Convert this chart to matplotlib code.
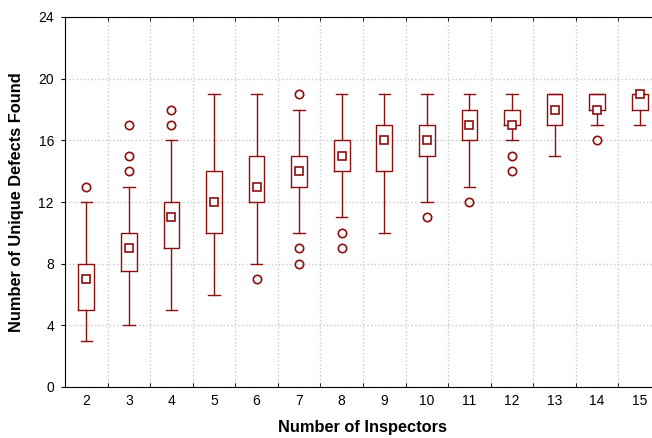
import matplotlib
matplotlib.use("Agg")
import matplotlib.pyplot as plt

plt.rcParams['font.family'] = ['Liberation Sans', 'DejaVu Sans']

inspectors = [2, 3, 4, 5, 6, 7, 8, 9, 10, 11, 12, 13, 14, 15]
whisker_lo = [3, 4, 5, 6, 8, 10, 11, 10, 12, 13, 16, 15, 17, 17]
q1 = [5, 7.5, 9, 10, 12, 13, 14, 14, 15, 16, 17, 17, 18, 18]
q3 = [8, 10, 12, 14, 15, 15, 16, 17, 17, 18, 18, 19, 19, 19]
whisker_hi = [12, 13, 16, 19, 19, 18, 19, 19, 19, 19, 19, 19, 19, 19]
centre = [7, 9, 11, 12, 13, 14, 15, 16, 16, 17, 17, 18, 18, 19]
outliers = [[13], [14, 15, 17], [17, 18], [], [7], [19, 9, 8], [10, 9],
            [], [11], [12], [15, 14], [], [16], []]

col = '#8b1010'

stats = []
for i in range(len(inspectors)):
    stats.append(dict(whislo=whisker_lo[i], q1=q1[i], med=centre[i],
                      q3=q3[i], whishi=whisker_hi[i], fliers=outliers[i]))

fig = plt.figure(figsize=(6.52, 4.38), dpi=100)
ax = fig.add_axes([65 / 652, 1 - 387 / 438, (661 - 65) / 652, (387 - 17) / 438])

ax.bxp(stats, positions=inspectors, widths=0.37, showmeans=False,
       boxprops=dict(color=col, linewidth=1),
       whiskerprops=dict(color=col, linewidth=1),
       capprops=dict(color=col, linewidth=1),
       capwidths=0.27,
       medianprops=dict(visible=False),
       flierprops=dict(marker='o', markersize=6, markerfacecolor='none',
                       markeredgecolor=col, markeredgewidth=1.2))
ax.plot(inspectors, centre, ls='none', marker='s', markersize=5.5,
        markerfacecolor='white', markeredgecolor=col, markeredgewidth=1.2,
        zorder=5)

ax.set_xlim(1.5, 15.5)
ax.set_ylim(0, 24)
ax.set_yticks(range(0, 25, 4))
ax.set_xticks(inspectors)
ax.set_xticklabels([str(v) for v in inspectors])
ax.set_xticks([v + 0.5 for v in inspectors[:-1]], minor=True)
ax.tick_params(axis='x', which='major', length=0, labelsize=10, pad=5)
ax.tick_params(axis='x', which='minor', direction='in', length=3,
               top=True, bottom=True)
ax.tick_params(axis='y', direction='out', length=3, labelsize=10, pad=5)
ax.spines['right'].set_visible(False)

ax.grid(True, axis='y', which='major', color='#c8c8c8', linestyle=':',
        linewidth=1)
ax.grid(True, axis='x', which='minor', color='#c8c8c8', linestyle=':',
        linewidth=1)
ax.set_axisbelow(True)

ax.set_xlabel('Number of Inspectors', fontsize=11.8, fontweight='bold',
              labelpad=9)
ax.set_ylabel('Number of Unique Defects Found', fontsize=11.8,
              fontweight='bold', labelpad=10)

fig.savefig('out.png', dpi=100)
